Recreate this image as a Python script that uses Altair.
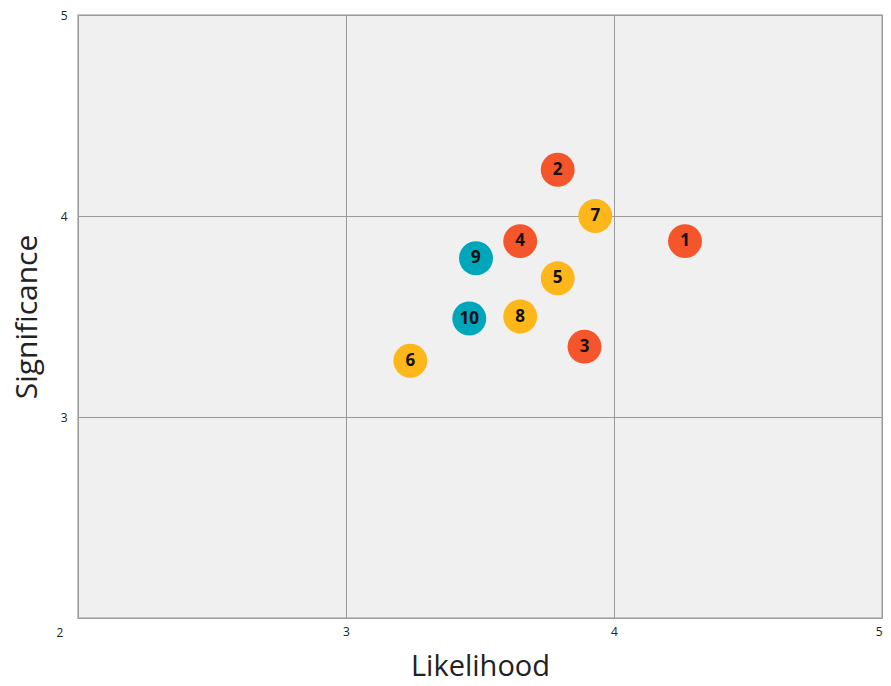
import altair as alt
import pandas as pd

ids = ["1", "2", "3", "4", "5", "6", "7", "8", "9", "10"]
likelihood = [4.265, 3.79, 3.89, 3.65, 3.79, 3.24, 3.93, 3.65, 3.485, 3.46]
significance = [3.875, 4.23, 3.35, 3.875, 3.69, 3.28, 4.0, 3.5, 3.79, 3.49]
group = ["High", "High", "High", "High", "Medium", "Medium", "Medium", "Medium", "Low", "Low"]

group_names = ["High", "Medium", "Low"]
group_colors = ["#F4552A", "#FDB71A", "#00A6BA"]

df = pd.DataFrame({"id": ids, "x": likelihood, "y": significance, "g": group})

FONT = "Open Sans"

xscale = alt.Scale(domain=[2, 5], nice=False, zero=False)
yscale = alt.Scale(domain=[2, 5], nice=False, zero=False)

base = alt.Chart(df)

points = base.mark_circle(size=1150, opacity=1).encode(
    x=alt.X("x:Q", scale=xscale, title="Likelihood",
            axis=alt.Axis(values=[2, 3, 4, 5], format="d",
                          labelExpr="datum.value == 2 ? '' : datum.label",
                          grid=True, gridColor="#9a9a9a", gridWidth=1, domain=False, ticks=False,
                          labelFontSize=12, labelColor="#222222", labelPadding=8, labelFont=FONT,
                          titleFontSize=29, titleFontWeight="normal", titleColor="#222222",
                          titleFont=FONT, titlePadding=15)),
    y=alt.Y("y:Q", scale=yscale, title="Significance",
            axis=alt.Axis(values=[2, 3, 4, 5], format="d",
                          labelExpr="datum.value == 2 ? '' : datum.label",
                          grid=True, gridColor="#9a9a9a", gridWidth=1, domain=False, ticks=False,
                          labelFontSize=12, labelColor="#222222", labelPadding=11, labelFont=FONT,
                          titleFontSize=30, titleFontWeight="normal", titleColor="#222222",
                          titleFont=FONT, titlePadding=18)),
    color=alt.Color("g:N", scale=alt.Scale(domain=group_names, range=group_colors), legend=None),
)

labels = base.mark_text(fontSize=17, fontWeight="bold", color="#111111", font=FONT).encode(
    x=alt.X("x:Q", scale=xscale),
    y=alt.Y("y:Q", scale=yscale),
    text="id:N",
)

corner = alt.Chart(pd.DataFrame({"x": [2], "y": [2], "t": ["2"]})).mark_text(
    fontSize=12, color="#222222", font=FONT, dx=-18, dy=15
).encode(
    x=alt.X("x:Q", scale=xscale),
    y=alt.Y("y:Q", scale=yscale),
    text="t:N",
)

chart = alt.layer(points, labels, corner).properties(
    width=804, height=603,
    autosize=alt.AutoSizeParams(type="none"),
    padding={"left": 78, "top": 15, "right": 9, "bottom": 68},
    background="white",
).configure_view(
    fill="#F0F0F0", stroke="#b5b5b5", strokeWidth=1.5
)

chart.save("out.html", embed_options={"renderer": "svg", "actions": False})
